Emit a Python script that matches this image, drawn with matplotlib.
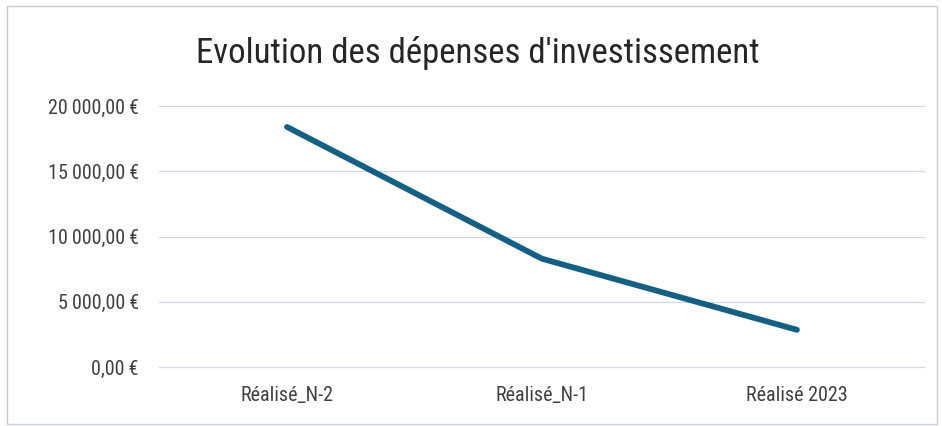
import matplotlib.pyplot as plt
from matplotlib import font_manager
from matplotlib.patches import Rectangle

categories = ["Réalisé_N-2", "Réalisé_N-1", "Réalisé 2023"]
depenses = [18400, 8300, 2850]
yticks = [0, 5000, 10000, 15000, 20000]

# condensed font if one is there, like the Aptos Narrow in the original
names = {f.name for f in font_manager.fontManager.ttflist}
fam = "Roboto"
for cand in ["Roboto Condensed", "Open Sans Condensed", "Liberation Sans Narrow",
             "DejaVu Sans Condensed"]:
    if cand in names:
        fam = cand
        break
plt.rcParams['font.family'] = [fam, 'DejaVu Sans']
condensed = fam != "Roboto"


def euro(v):
    s = f"{v:,.2f}".replace(",", "\u202f").replace(".", ",")
    return s + "\u202f€"


fig = plt.figure(figsize=(9.42, 4.26), dpi=100)
fig.patches.append(Rectangle((0.007, 0.005), 0.988, 0.98, transform=fig.transFigure,
                             fill=False, edgecolor="#c8ccd4", linewidth=1))
ax = fig.add_axes([0.1693, 0.1385, 0.812, 0.6125])

x = list(range(len(categories)))
ax.plot(x, depenses, color="#156082", linewidth=4.2, solid_capstyle="round")

ax.set_xlim(-0.5, 2.5)
ax.set_ylim(0, 20000)
ax.set_yticks(yticks)
fs = 14.5 if condensed else 12.5
ax.set_yticklabels([euro(v) for v in yticks], fontsize=fs, color="#404040")
ax.set_xticks(x)
ax.set_xticklabels(categories, fontsize=fs, color="#404040")
ax.tick_params(length=0, pad=15)
ax.tick_params(axis="x", pad=14)
for v in yticks:
    ax.axhline(v, color="#d4d8e2", linewidth=0.9, clip_on=False, zorder=0)
for s in ax.spines.values():
    s.set_visible(False)

fig.text(0.507, 0.875, "Evolution des dépenses d'investissement", ha="center", va="center",
         fontsize=25 if condensed else 20, color="#262626")

fig.savefig("out.png", dpi=100)
